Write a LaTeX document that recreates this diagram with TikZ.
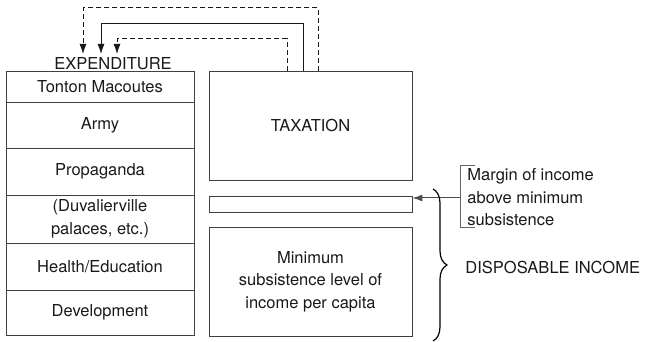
\documentclass[tikz,border=0pt]{standalone}
\usepackage{fontspec}
\setmainfont{TeX Gyre Heros}
\usetikzlibrary{arrows.meta,decorations.pathreplacing}

\begin{document}
\begin{tikzpicture}[x=1pt,y=-1pt,line width=0.9pt,font=\fontsize{16.5}{22.5}\selectfont]
      \tikzstyle{box}=[draw=black!75,inner sep=0pt,align=center,text=black!90]
      \tikzstyle{row}=[box,minimum width=188pt]
      \tikzstyle{panel}=[box,minimum width=203pt]
      \tikzstyle{flow}=[-{Latex[length=10pt,width=7pt]},black!90,line width=1pt]
      \tikzstyle{dashflow}=[flow,dash pattern=on 5pt off 3pt]
      \tikzstyle{annot}=[text=black!90,inner sep=0pt,align=left]

      \useasboundingbox (0,0) rectangle (646,342);

      % Draw the expenditure column, one row per item
      \foreach \name/\y/\h/\txt in {mac/86.5/31/Tonton Macoutes, army/125/46/Army,
          prop/171.5/47/Propaganda, pal/219/48/{(Duvalierville\\palaces, etc.)},
          health/266.5/47/{Health/Education}, dev/312.5/45/Development}
      \node[row,minimum height=\h pt] (\name) at (100,\y) {\txt};

      \node[annot] (exp) at (113,64) {EXPENDITURE};

      % Draw the income side
      \node[panel,minimum height=109pt] (tax) at (310.5,125.5) {TAXATION};
      \node[panel,minimum height=16pt] (marg) at (310.5,204) {};
      \node[panel,minimum height=109pt] (subs) at (310.5,281.5)
          {Minimum\\subsistence level of\\income per capita};

      % Flows from taxation back to expenditure
      \coordinate (in1) at (83,54);
      \coordinate (in2) at (101,54);
      \coordinate (in3) at (117,54);
      \draw[dashflow] ([xshift=7.5pt]tax.north) -- ++(0,-63) -| (in1);
      \draw[flow] ([xshift=-7.5pt]tax.north) -- ++(0,-47) -| (in2);
      \draw[dashflow] ([xshift=-23.5pt]tax.north) -- ++(0,-32) -| (in3);

      % Annotate the margin and the disposable income
      \node[annot,anchor=north west] (mtext) at (467,168)
          {Margin of income\\above minimum\\subsistence};
      \coordinate (bm) at (460,198);
      \draw[black!60] (475,165) -- (460,165) -- (460,227) -- (475,227);
      \draw[flow,black!70] (bm) -- (bm -| marg.east);
      \draw[decorate,decoration={brace,amplitude=14pt},line width=1.2pt]
          (433,189) -- (433,341);
      \node[annot,anchor=west] (disp) at (465,267) {DISPOSABLE INCOME};
\end{tikzpicture}
\end{document}
